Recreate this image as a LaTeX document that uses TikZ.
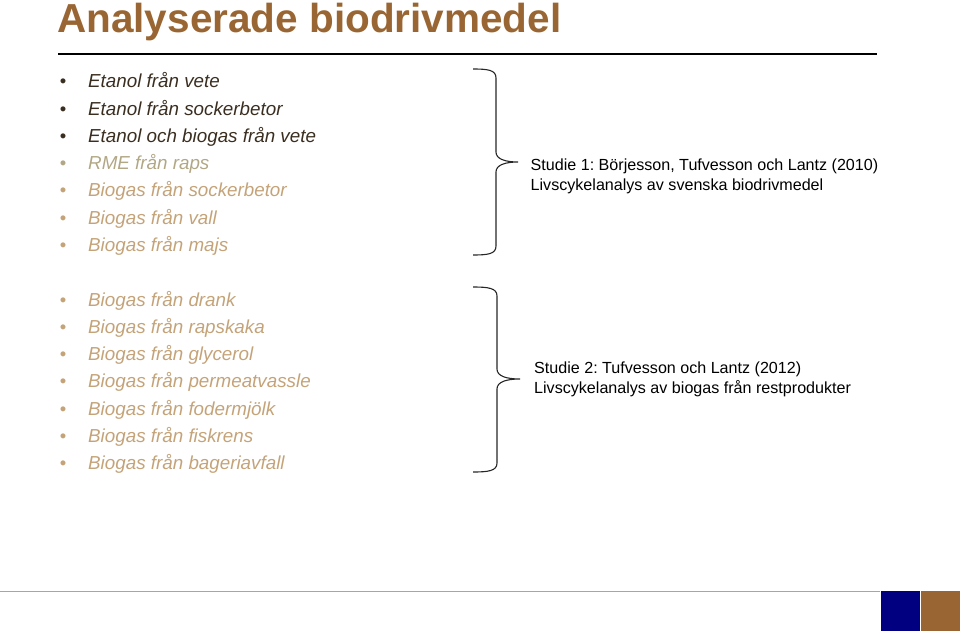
\documentclass[tikz,border=0pt]{standalone}
\usepackage{fontspec}
\setmainfont{Liberation Sans}
\frenchspacing
\definecolor{titlebrown}{HTML}{996633}
\definecolor{darktxt}{HTML}{3A2E20}
\definecolor{olivetxt}{HTML}{B2A785}
\definecolor{tantxt}{HTML}{C4A379}
\definecolor{navyblk}{HTML}{000080}
\definecolor{rulegray}{HTML}{A6A6A6}
\begin{document}
\begin{tikzpicture}[x=1pt,y=-1pt,
  item/.style={anchor=base west,inner sep=0pt,font=\fontsize{18.8}{22}\selectfont\itshape},
  bul/.style={anchor=base,inner sep=0pt,font=\fontsize{18.5}{22}\selectfont},
  study/.style={anchor=base west,inner sep=0pt,font=\fontsize{16.1}{19.3}\selectfont,align=left},
  brace/.style={draw=black!85,line width=1.1pt}]
\useasboundingbox (0,0) rectangle (960,631);
\node[anchor=base west,inner sep=0pt,text=titlebrown,font=\fontsize{40.5}{44}\selectfont\bfseries] (title) at (57,33) {Analyserade biodrivmedel};
\draw[line width=1.3pt] (58,54) -- (877,54);
% list 1
\foreach \t/\c [count=\i from 0] in {Etanol från vete/darktxt,Etanol från sockerbetor/darktxt,Etanol och biogas från vete/darktxt,RME från raps/olivetxt,Biogas från sockerbetor/tantxt,Biogas från vall/tantxt,Biogas från majs/tantxt}{
  \node[bul,text=\c] (ba\i) at (63,88+27.2*\i) {•};
  \node[item,text=\c] (a\i) at (88,88+27.2*\i) {\t};
}
% list 2
\foreach \t [count=\i from 0] in {Biogas från drank,Biogas från rapskaka,Biogas från glycerol,Biogas från permeatvassle,Biogas från fodermjölk,Biogas från fiskrens,Biogas från bageriavfall}{
  \node[bul,text=tantxt] (bb\i) at (63,306+27.33*\i) {•};
  \node[item,text=tantxt] (b\i) at (88,306+27.33*\i) {\t};
}
% brace 1
\draw[brace] (473,69) .. controls (488,69) and (496,70) .. (496,78)
  -- (496,152) .. controls (496,159) and (505,162) .. (518,162)
  .. controls (505,162) and (496,165) .. (496,172)
  -- (496,246) .. controls (496,254) and (488,255) .. (473,255);
\node[study] (s1) at (530.5,170.5) {Studie 1: Börjesson, Tufvesson och Lantz (2010)};
\node[study] (s1b) at (530.5,190) {Livscykelanalys av svenska biodrivmedel};
% brace 2
\draw[brace] (473,287) .. controls (488,287) and (497,288) .. (497,296)
  -- (497,369) .. controls (497,376) and (506,379) .. (520,379)
  .. controls (506,379) and (497,382) .. (497,389)
  -- (497,463) .. controls (497,471) and (488,472) .. (473,472);
\node[study] (s2) at (534,373.5) {Studie 2: Tufvesson och Lantz (2012)};
\node[study] (s2b) at (534,393) {Livscykelanalys av biogas från restprodukter};
% footer
\draw[rulegray,line width=1pt] (0,591.5) -- (880,591.5);
\fill[navyblk] (880.5,591) rectangle (920,631);
\fill[titlebrown] (920.5,591) rectangle (960,631);
\end{tikzpicture}
\end{document}
